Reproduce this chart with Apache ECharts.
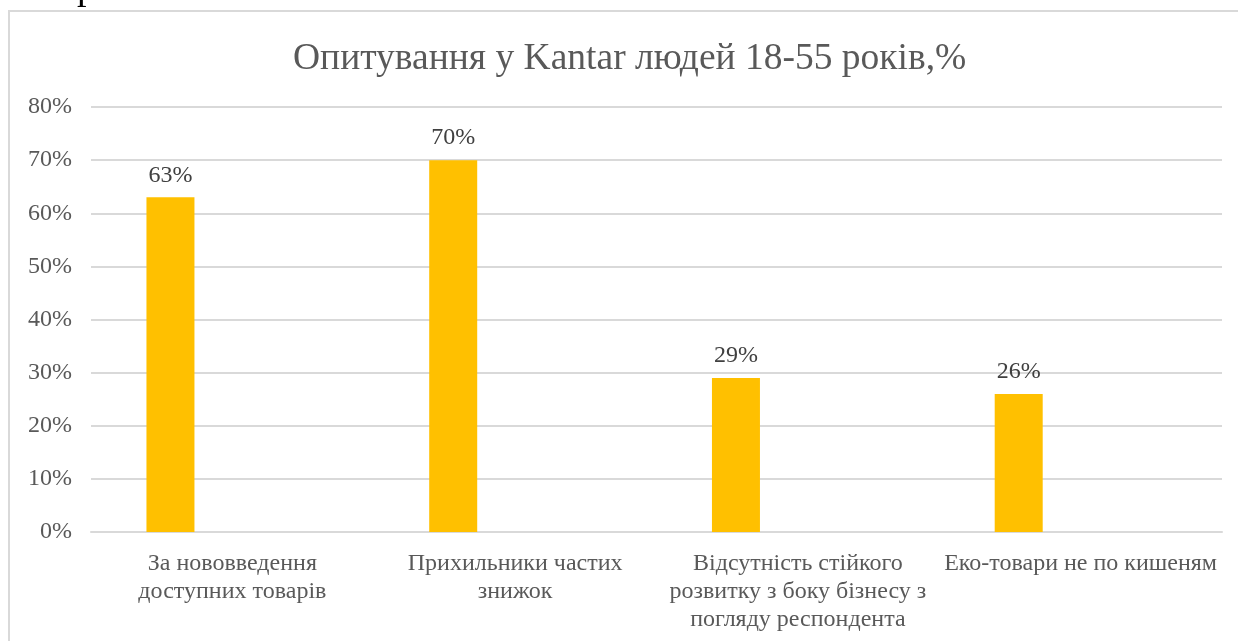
<!DOCTYPE html>
<html>
<head>
<meta charset="utf-8">
<script src="https://cdn.jsdelivr.net/npm/echarts@6/dist/echarts.min.js"></script>
<style>
html,body{margin:0;padding:0;background:#fff;}
#chart{width:1238px;height:641px;}
</style>
</head>
<body>
<div id="chart"></div>
<script>
const titleText = 'Опитування у Kantar людей 18-55 років,%';
const categories = [
  'За нововведення\nдоступних товарів',
  'Прихильники частих\nзнижок',
  'Відсутність стійкого\nрозвитку з боку бізнесу з\nпогляду респондента',
  'Еко-товари не по кишеням'
];
const values = [63, 70, 29, 26];
const emptySeries = [null, null, null, null];
const yTicks = [0, 10, 20, 30, 40, 50, 60, 70, 80];

const FONT = '"Liberation Serif", "Times New Roman", serif';
const chart = echarts.init(document.getElementById('chart'));
chart.setOption({
  backgroundColor: '#ffffff',
  animation: false,
  graphic: [
    { type: 'rect', shape: { x: 9, y: 11, width: 1240, height: 640 },
      style: { fill: 'none', stroke: '#d9d9d9', lineWidth: 2 }, silent: true },
    { type: 'text', left: 77, top: -30,
      style: { text: 'р', font: '38px ' + FONT, fill: '#000000' }, silent: true }
  ],
  title: {
    text: titleText,
    left: 288,
    top: 35,
    textStyle: { fontFamily: FONT, fontSize: 37.5, fontWeight: 'normal', color: '#595959' }
  },
  grid: { left: 91, right: 16, top: 107, bottom: 109, containLabel: false },
  xAxis: {
    type: 'category',
    data: categories,
    axisLine: { show: true, lineStyle: { color: '#d9d9d9', width: 2 } },
    axisTick: { show: false },
    axisLabel: {
      interval: 0, margin: 18,
      fontFamily: FONT, fontSize: 24, color: '#595959', lineHeight: 28, align: 'center'
    }
  },
  yAxis: {
    type: 'value',
    min: yTicks[0], max: yTicks[yTicks.length - 1], interval: 10,
    axisLine: { show: false },
    axisTick: { show: false },
    splitLine: { lineStyle: { color: '#d9d9d9', width: 2 } },
    axisLabel: {
      formatter: v => v + '%', margin: 19,
      fontFamily: FONT, fontSize: 24, color: '#595959'
    }
  },
  series: [
    {
      type: 'bar', data: values, barWidth: 48, barGap: '158%',
      itemStyle: { color: '#FFC000' },
      label: {
        show: true, position: 'top', distance: 10, formatter: p => p.value + '%',
        fontFamily: FONT, fontSize: 24, color: '#404040'
      }
    },
    { type: 'bar', data: emptySeries, barWidth: 48 }
  ]
});
</script>
</body>
</html>
